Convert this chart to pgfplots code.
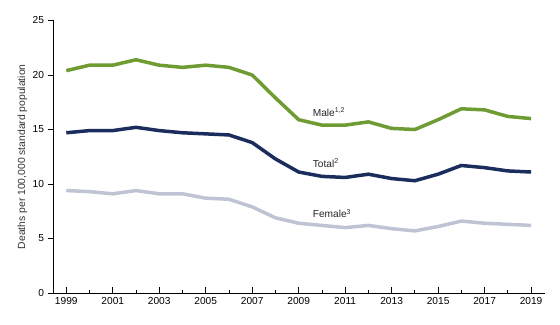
\documentclass[border=0pt]{standalone}
\usepackage{fontspec}
\setmainfont{Liberation Sans}
\usepackage{pgfplots}
\pgfplotsset{compat=1.18}
\definecolor{malec}{RGB}{110,156,50}
\definecolor{totalc}{RGB}{27,45,92}
\definecolor{femalec}{RGB}{190,196,212}
\newcommand{\sups}[1]{\raisebox{3.4bp}{\fontsize{7}{8}\selectfont #1}}
\begin{document}
\begin{tikzpicture}[x=1bp,y=1bp]
\useasboundingbox (0,0) rectangle (560,324);
\begin{axis}[
  at={(53.5bp,31bp)}, anchor=origin,
  scale only axis, width=491.5bp, height=272.5bp,
  xmin=1998.45, xmax=2019.6, ymin=0, ymax=25,
  axis x line=bottom, axis y line=left,
  axis line style={-, line width=0.8bp, black},
  xtick={1999,2001,...,2019},
  minor xtick={2000,2002,...,2018},
  xticklabel style={/pgf/number format/1000 sep={}, font=\fontsize{10.2}{12}\selectfont, yshift=-1bp},
  x tick label style={/pgf/number format/1000 sep={}},
  ytick={0,5,...,25},
  yticklabel style={font=\fontsize{10.2}{12}\selectfont},
  /pgf/number format/assume math mode=true,
  tick style={black, line width=0.8bp},
  xtick align=inside,
  ytick align=outside,
  major tick length=6bp,
  minor tick length=3bp,
  ylabel={Deaths per 100,000 standard population},
  ylabel style={font=\fontsize{10.4}{12}\selectfont, at={(axis description cs:0,0.5)}, anchor=center, yshift=31bp, text=black!80},
  clip=false,
]
\addplot[femalec, line width=3.5bp] coordinates {
(1999,9.4)(2000,9.3)(2001,9.1)(2002,9.4)(2003,9.1)(2004,9.1)(2005,8.7)(2006,8.6)(2007,7.9)(2008,6.9)
(2009,6.4)(2010,6.2)(2011,6.0)(2012,6.2)(2013,5.9)(2014,5.7)(2015,6.1)(2016,6.6)(2017,6.4)(2018,6.3)(2019,6.2)};
\addplot[totalc, line width=3.5bp] coordinates {
(1999,14.7)(2000,14.9)(2001,14.9)(2002,15.2)(2003,14.9)(2004,14.7)(2005,14.6)(2006,14.5)(2007,13.8)(2008,12.3)
(2009,11.1)(2010,10.7)(2011,10.6)(2012,10.9)(2013,10.5)(2014,10.3)(2015,10.9)(2016,11.7)(2017,11.5)(2018,11.2)(2019,11.1)};
\addplot[malec, line width=3.5bp] coordinates {
(1999,20.4)(2000,20.9)(2001,20.9)(2002,21.4)(2003,20.9)(2004,20.7)(2005,20.9)(2006,20.7)(2007,20.0)(2008,17.9)
(2009,15.9)(2010,15.4)(2011,15.4)(2012,15.7)(2013,15.1)(2014,15.0)(2015,15.9)(2016,16.9)(2017,16.8)(2018,16.2)(2019,16.0)};
\node[anchor=west, inner sep=0pt, font=\fontsize{10.2}{12}\selectfont, text=black!85] at (axis cs:2009.6,16.6) {Male\sups{1,2}};
\node[anchor=west, inner sep=0pt, font=\fontsize{10.2}{12}\selectfont, text=black!85] at (axis cs:2009.6,11.9) {Total\sups{2}};
\node[anchor=west, inner sep=0pt, font=\fontsize{10.2}{12}\selectfont, text=black!85] at (axis cs:2009.6,7.3) {Female\sups{3}};
\end{axis}
\end{tikzpicture}
\end{document}
